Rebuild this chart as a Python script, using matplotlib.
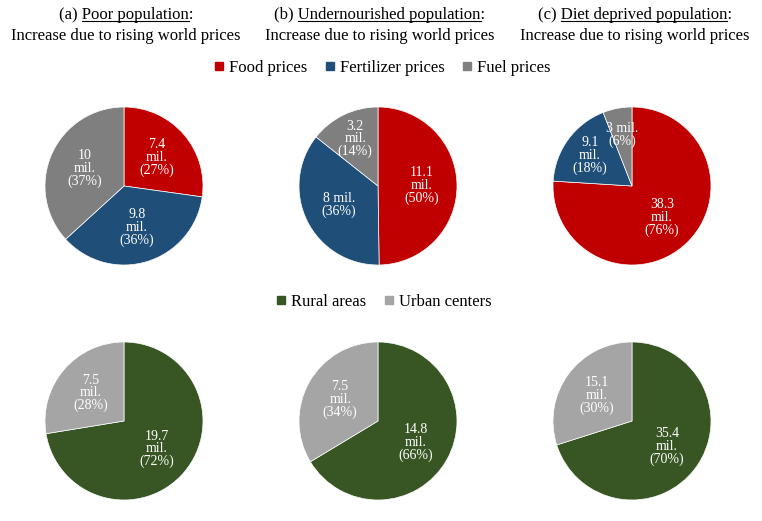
import matplotlib
matplotlib.use("Agg")
import matplotlib.pyplot as plt
import numpy as np
from matplotlib.lines import Line2D

plt.rcParams['font.family'] = ['Liberation Serif', 'DejaVu Serif']

# ---- data ----
price_categories = ["Food prices", "Fertilizer prices", "Fuel prices"]
price_colors = ["#C00000", "#1F4E79", "#7F7F7F"]
poor_prices = [7.4, 9.8, 10]
undernourished_prices = [11.1, 8, 3.2]
diet_prices = [38.3, 9.1, 3]
poor_price_labels = ["7.4\nmil.\n(27%)", "9.8\nmil.\n(36%)", "10\nmil.\n(37%)"]
undernourished_price_labels = ["11.1\nmil.\n(50%)", "8 mil.\n(36%)", "3.2\nmil.\n(14%)"]
diet_price_labels = ["38.3\nmil.\n(76%)", "9.1\nmil.\n(18%)", "3 mil.\n(6%)"]

area_categories = ["Rural areas", "Urban centers"]
area_colors = ["#375623", "#A5A5A5"]
poor_areas = [19.7, 7.5]
undernourished_areas = [14.8, 7.5]
diet_areas = [35.4, 15.1]
poor_area_labels = ["19.7\nmil.\n(72%)", "7.5\nmil.\n(28%)"]
undernourished_area_labels = ["14.8\nmil.\n(66%)", "7.5\nmil.\n(34%)"]
diet_area_labels = ["35.4\nmil.\n(70%)", "15.1\nmil.\n(30%)"]

title_prefixes = ["(a) ", "(b) ", "(c) "]
title_names = ["Poor population", "Undernourished population", "Diet deprived population"]
subtitle = "Increase due to rising world prices"

W, H = 762, 521
fig = plt.figure(figsize=(W / 100, H / 100), dpi=100)
fig.patch.set_facecolor("white")

R = 79
col_cx = [124, 378, 632]
row_cy = [186, 421]

def pie_ax(cx, cy):
    ax = fig.add_axes([(cx - R) / W, (H - cy - R) / H, 2 * R / W, 2 * R / H])
    ax.axis('off')
    return ax

def draw_pie(ax, vals, colors, labels):
    wedges, _ = ax.pie(vals, colors=colors, startangle=90, counterclock=False, radius=1,
                       wedgeprops=dict(linewidth=0.5, edgecolor='white'))
    total = float(sum(vals))
    for w, v, lab in zip(wedges, vals, labels):
        mid = np.deg2rad((w.theta1 + w.theta2) / 2)
        d = 0.55 if v / total > 0.2 else 0.66
        ax.text(d * np.cos(mid), d * np.sin(mid), lab, ha='center', va='center',
                color='white', fontsize=10, linespacing=0.95)
    ax.set_xlim(-1, 1)
    ax.set_ylim(-1, 1)
    ax.set_aspect('equal')

top_vals = [poor_prices, undernourished_prices, diet_prices]
top_labels = [poor_price_labels, undernourished_price_labels, diet_price_labels]
bot_vals = [poor_areas, undernourished_areas, diet_areas]
bot_labels = [poor_area_labels, undernourished_area_labels, diet_area_labels]

for i in range(3):
    draw_pie(pie_ax(col_cx[i], row_cy[0]), top_vals[i], price_colors, top_labels[i])
    draw_pie(pie_ax(col_cx[i], row_cy[1]), bot_vals[i], area_colors, bot_labels[i])

# titles with underline
title_cx = [126, 380, 635]
renderer = fig.canvas.get_renderer()
fs_title = 12
for i in range(3):
    x = title_cx[i] / W
    full = title_prefixes[i] + title_names[i] + ":"
    t = fig.text(x, 1 - 15 / H, full, ha='center', va='center', fontsize=fs_title)
    fig.text(x, 1 - 36 / H, subtitle, ha='center', va='center', fontsize=fs_title)
    bb = t.get_window_extent(renderer)
    tmp1 = fig.text(0, 0, title_prefixes[i], fontsize=fs_title)
    tmp2 = fig.text(0, 0, title_prefixes[i] + title_names[i], fontsize=fs_title)
    w1 = tmp1.get_window_extent(renderer).width
    w2 = tmp2.get_window_extent(renderer).width
    tmp1.remove(); tmp2.remove()
    x0 = (bb.x0 + w1) / W
    x1 = (bb.x0 + w2) / W
    yline = (bb.y0 + 2.5) / H
    fig.add_artist(Line2D([x0, x1], [yline, yline], color='black', lw=0.8,
                          transform=fig.transFigure))

# legends
h1 = [Line2D([], [], marker='s', color=c, linestyle='None', markersize=6) for c in price_colors]
fig.legend(h1, price_categories, loc='center', bbox_to_anchor=(382 / W, 1 - 68 / H),
           ncol=3, frameon=False, fontsize=12, handlelength=0.6, handletextpad=0.3,
           columnspacing=1.05)
h2 = [Line2D([], [], marker='s', color=c, linestyle='None', markersize=6) for c in area_colors]
fig.legend(h2, area_categories, loc='center', bbox_to_anchor=(384 / W, 1 - 302 / H),
           ncol=2, frameon=False, fontsize=12, handlelength=0.6, handletextpad=0.3,
           columnspacing=1.05)

fig.savefig("out.png", dpi=100, facecolor='white')
